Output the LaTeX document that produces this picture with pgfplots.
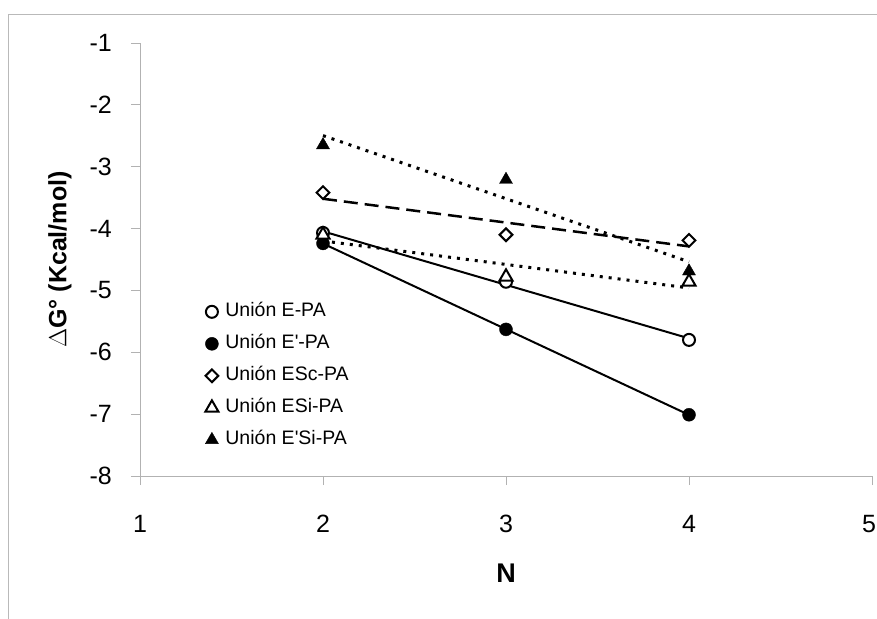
\documentclass[border=0pt]{standalone}
\usepackage{pgfplots}
\pgfplotsset{compat=1.18}
\usepackage{fontspec}
\setmainfont{Liberation Sans}[Ligatures=TeXOff]

\begin{document}
\begin{tikzpicture}
\useasboundingbox (0bp,0bp) rectangle (877bp,619bp);
\draw[gray!55, line width=1bp] (8bp,0bp) -- (8bp,604bp) -- (877bp,604bp);
\begin{axis}[
  at={(140bp,143bp)}, anchor=south west,
  scale only axis, width=732bp, height=433bp,
  xmin=1, xmax=5, ymin=-8, ymax=-1,
  xtick={1,2,3,4,5}, ytick={-8,-7,-6,-5,-4,-3,-2,-1},
  xticklabels={1,2,3,4,{\hspace*{-6bp}5}},
  axis x line*=bottom, axis y line*=left,
  x axis line style={-}, y axis line style={-},
  axis line style={gray!60, line width=1bp},
  tick style={gray!60, line width=1bp},
  tick align=outside, major tick length=9bp,
  tick label style={font=\fontsize{25bp}{30bp}\selectfont, black, inner sep=0pt},
  /pgf/number format/assume math mode=true,
  xticklabel style={anchor=north, yshift=-30bp},
  yticklabel style={anchor=east, xshift=-19bp},
  every axis x label/.style={at={(axis description cs:0.5,-0.224)}, anchor=center, font=\fontsize{27bp}{32bp}\selectfont\bfseries},
  every axis y label/.style={at={(axis description cs:-0.1093,0.5)}, rotate=90, anchor=center, font=\fontsize{25bp}{30bp}\selectfont\bfseries},
  xlabel={N},
  ylabel={$\Delta$G\textdegree{} (Kcal/mol)},
  legend style={at={(axis description cs:0.085,0.405)}, anchor=north west, draw=none, fill=none,
    nodes={font=\fontsize{19.5bp}{22bp}\selectfont, inner sep=0pt, text height=14bp, text depth=4bp, anchor=west},
    row sep=14bp,
    /tikz/every odd column/.append style={column sep=7bp}},
  legend cell align=left,
  legend image code/.code={\draw[#1] plot coordinates {(0bp,0bp)};},
  clip=false,
]
% trendlines
\addplot[black, line width=2bp, forget plot] coordinates {(2,-4.045) (4,-5.775)};
\addplot[black, line width=2bp, forget plot] coordinates {(2,-4.242) (4,-7.012)};
\addplot[black, line width=2.5bp, dash pattern=on 14bp off 7bp, forget plot] coordinates {(2,-3.518) (4,-4.288)};
\addplot[black, line width=3bp, dash pattern=on 3bp off 6bp, forget plot] coordinates {(2,-4.20) (4,-4.96)};
\addplot[black, line width=3bp, dash pattern=on 3bp off 6bp, forget plot] coordinates {(2,-2.497) (4,-4.537)};
% data
\addplot[only marks, mark=*, mark size=6bp, mark options={draw=black, fill=white, line width=2bp}] coordinates {(2,-4.07) (3,-4.86) (4,-5.80)};
\addlegendentry{Unión E-PA}
\addplot[only marks, mark=*, mark size=6.5bp, mark options={draw=black, fill=black}] coordinates {(2,-4.24) (3,-5.63) (4,-7.01)};
\addlegendentry{Unión E'-PA}
\addplot[only marks, mark=square*, mark size=4.5bp, mark options={draw=black, fill=white, line width=2bp, rotate=45}] coordinates {(2,-3.42) (3,-4.10) (4,-4.19)};
\addlegendentry{Unión ESc-PA}
\addplot[only marks, mark=triangle*, mark size=7.5bp, mark options={draw=black, fill=white, line width=2bp}] coordinates {(2,-4.10) (3,-4.78) (4,-4.86)};
\addlegendentry{Unión ESi-PA}
\addplot[only marks, mark=triangle*, mark size=7.5bp, mark options={draw=black, fill=black}] coordinates {(2,-2.65) (3,-3.21) (4,-4.69)};
\addlegendentry{Unión E'Si-PA}
\end{axis}
\end{tikzpicture}
\end{document}
